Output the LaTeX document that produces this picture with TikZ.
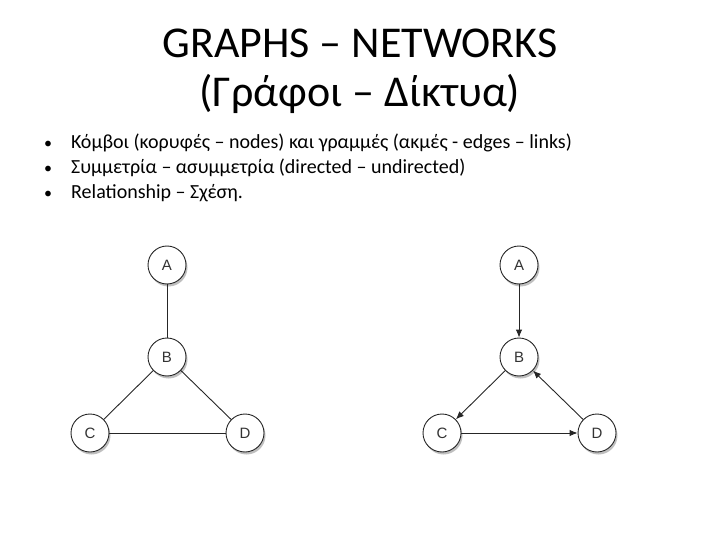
\documentclass[tikz,border=0pt]{standalone}
\usepackage{fontspec}
\setmainfont{Carlito}
\newfontfamily\nodefont{Liberation Sans}
\usetikzlibrary{arrows.meta,positioning,shadows}

\begin{document}
\begin{tikzpicture}[
    x=1pt, y=-1pt,
    node distance=92pt, on grid,
    vertex/.style={circle, draw=black!85, line width=0.9pt, fill=white,
                   minimum size=38pt, inner sep=0pt, text=black!80,
                   font=\nodefont\fontsize{15}{15}\selectfont,
                   drop shadow={shadow xshift=1.5pt, shadow yshift=-2.5pt, opacity=0.25, fill=black}},
    link/.style={draw=black!85, line width=0.9pt},
    arc/.style={link, -{Latex[length=8pt,width=6.5pt]}},
    heading/.style={anchor=base, inner sep=0pt, font=\fontsize{44}{44}\selectfont},
    bullet/.style={anchor=base west, font=\fontsize{20}{20}\selectfont, inner sep=0pt}
]
    \useasboundingbox (0,0) rectangle (720,540);

    % title and bullets
    \node[heading] (title) at (360,58) {GRAPHS -- NETWORKS};
    \node[heading] (subtitle) at (360,107) {(Γράφοι -- Δίκτυα)};
    \node[bullet] (b1) at (71,149) {Κόμβοι (κορυφές -- nodes) και γραμμές (ακμές - edges -- links)};
    \node[bullet] (b2) at (71,174) {Συμμετρία -- ασυμμετρία (directed -- undirected)};
    \node[bullet] (b3) at (71,199) {Relationship -- Σχέση.};
    \foreach \y in {149,174,199}
        \node[anchor=base, font=\fontsize{16}{16}\selectfont, inner sep=0pt] at (48,\y) {•};

    % undirected graph
    \node[vertex] (ua) at (167,265) {A};
    \node[vertex, below=of ua] (ub) {B};
    \node[vertex, below left=76pt and 77pt of ub] (uc) {C};
    \node[vertex, below right=76pt and 78pt of ub] (ud) {D};

    \draw[link] (ua) -- (ub);
    \draw[link] (ub) -- (uc);
    \draw[link] (ub) -- (ud);
    \draw[link] (uc) -- (ud);

    % directed graph
    \node[vertex] (da) at (519,265) {A};
    \node[vertex, below=of da] (db) {B};
    \node[vertex, below left=76pt and 77pt of db] (dc) {C};
    \node[vertex, below right=76pt and 78pt of db] (dd) {D};

    \draw[arc] (da) -- (db);
    \draw[arc] (db) -- (dc);
    \draw[arc] (dc) -- (dd);
    \draw[arc] (dd) -- (db);
\end{tikzpicture}
\end{document}
